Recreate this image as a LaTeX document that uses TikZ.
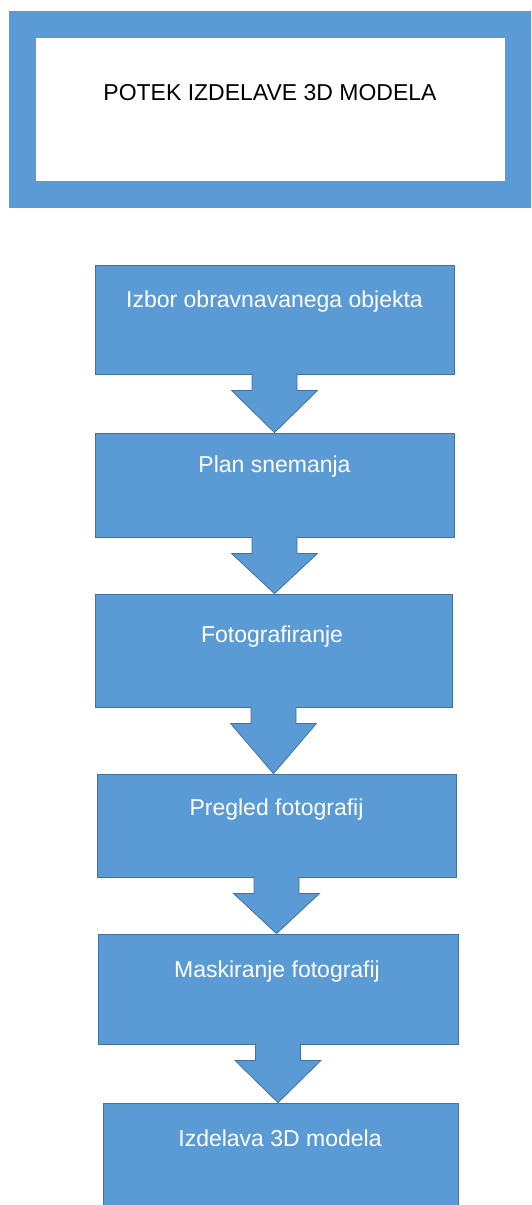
\documentclass[tikz,border=0pt]{standalone}
\usepackage{fontspec}
\setmainfont{Liberation Sans}
\usetikzlibrary{calc}
\definecolor{fillblue}{RGB}{91,155,213}
\definecolor{edgeblue}{RGB}{65,113,156}
\tikzset{
  stepbox/.style={rectangle, fill=fillblue, draw=edgeblue, line width=0.8pt, inner sep=0pt},
  steptext/.style={text=white, font=\fontsize{23}{27}\selectfont, inner sep=0pt, text height=16.5pt, text depth=0pt},
  titleframe/.style={rectangle, draw=fillblue, fill=white, line width=27pt, inner sep=0pt},
  titletext/.style={text=black, font=\fontsize{23}{27}\selectfont, inner sep=0pt, text height=16.5pt, text depth=0pt},
  blockarrowstyle/.style={fill=fillblue, draw=edgeblue, line width=0.8pt, line join=miter},
}
\newcommand{\myblockarrow}[2]{%
  \path[blockarrowstyle] ($(#1.south)+(-22.5,-1)$) -- ($(#1.south)+(-22.5,16)$) -- ($(#1.south)+(-43,16)$) -- (#2.north -| #1.south) -- ($(#1.south)+(43,16)$) -- ($(#1.south)+(22.5,16)$) -- ($(#1.south)+(22.5,-1)$);%
}
\begin{document}
\begin{tikzpicture}[x=1pt,y=-1pt]
  \useasboundingbox (0,0) rectangle (531,1205);
  \clip (0,0) rectangle (531,1205);
  \fill[white] (0,0) rectangle (531,1205);
  % title
  \node[titleframe, minimum width=496pt, minimum height=170pt] (title) at (270.5,109.5) {};
  \node[titletext] (ttext) at (270,92.5) {POTEK IZDELAVE 3D MODELA};
  % boxes
  \node[stepbox, minimum width=359pt, minimum height=109pt] (b1) at (274.5,319.5) {};
  \node[stepbox, minimum width=359pt, minimum height=104pt] (b2) at (274.5,485) {};
  \node[stepbox, minimum width=357pt, minimum height=113pt] (b3) at (273.5,650.5) {};
  \node[stepbox, minimum width=359pt, minimum height=103pt] (b4) at (276.5,825.5) {};
  \node[stepbox, minimum width=360pt, minimum height=110pt] (b5) at (278,989) {};
  \node[stepbox, minimum width=355pt, minimum height=107pt] (b6) at (280.5,1156.5) {};
  % arrows
  \myblockarrow{b1}{b2}
  \myblockarrow{b2}{b3}
  \myblockarrow{b3}{b4}
  \myblockarrow{b4}{b5}
  \myblockarrow{b5}{b6}
  % texts
  \node[steptext] (t1) at ($(b1.north)+(0,34.5)$) {Izbor obravnavanega objekta};
  \node[steptext] (t2) at ($(b2.north)+(0,32)$) {Plan snemanja};
  \node[steptext] (t3) at ($(b3.north)+(-1.5,41)$) {Fotografiranje};
  \node[steptext] (t4) at ($(b4.north)+(0,34)$) {Pregled fotografij};
  \node[steptext] (t5) at ($(b5.north)+(-1,36)$) {Maskiranje fotografij};
  \node[steptext] (t6) at ($(b6.north)+(-0.5,36)$) {Izdelava 3D modela};
\end{tikzpicture}
\end{document}
